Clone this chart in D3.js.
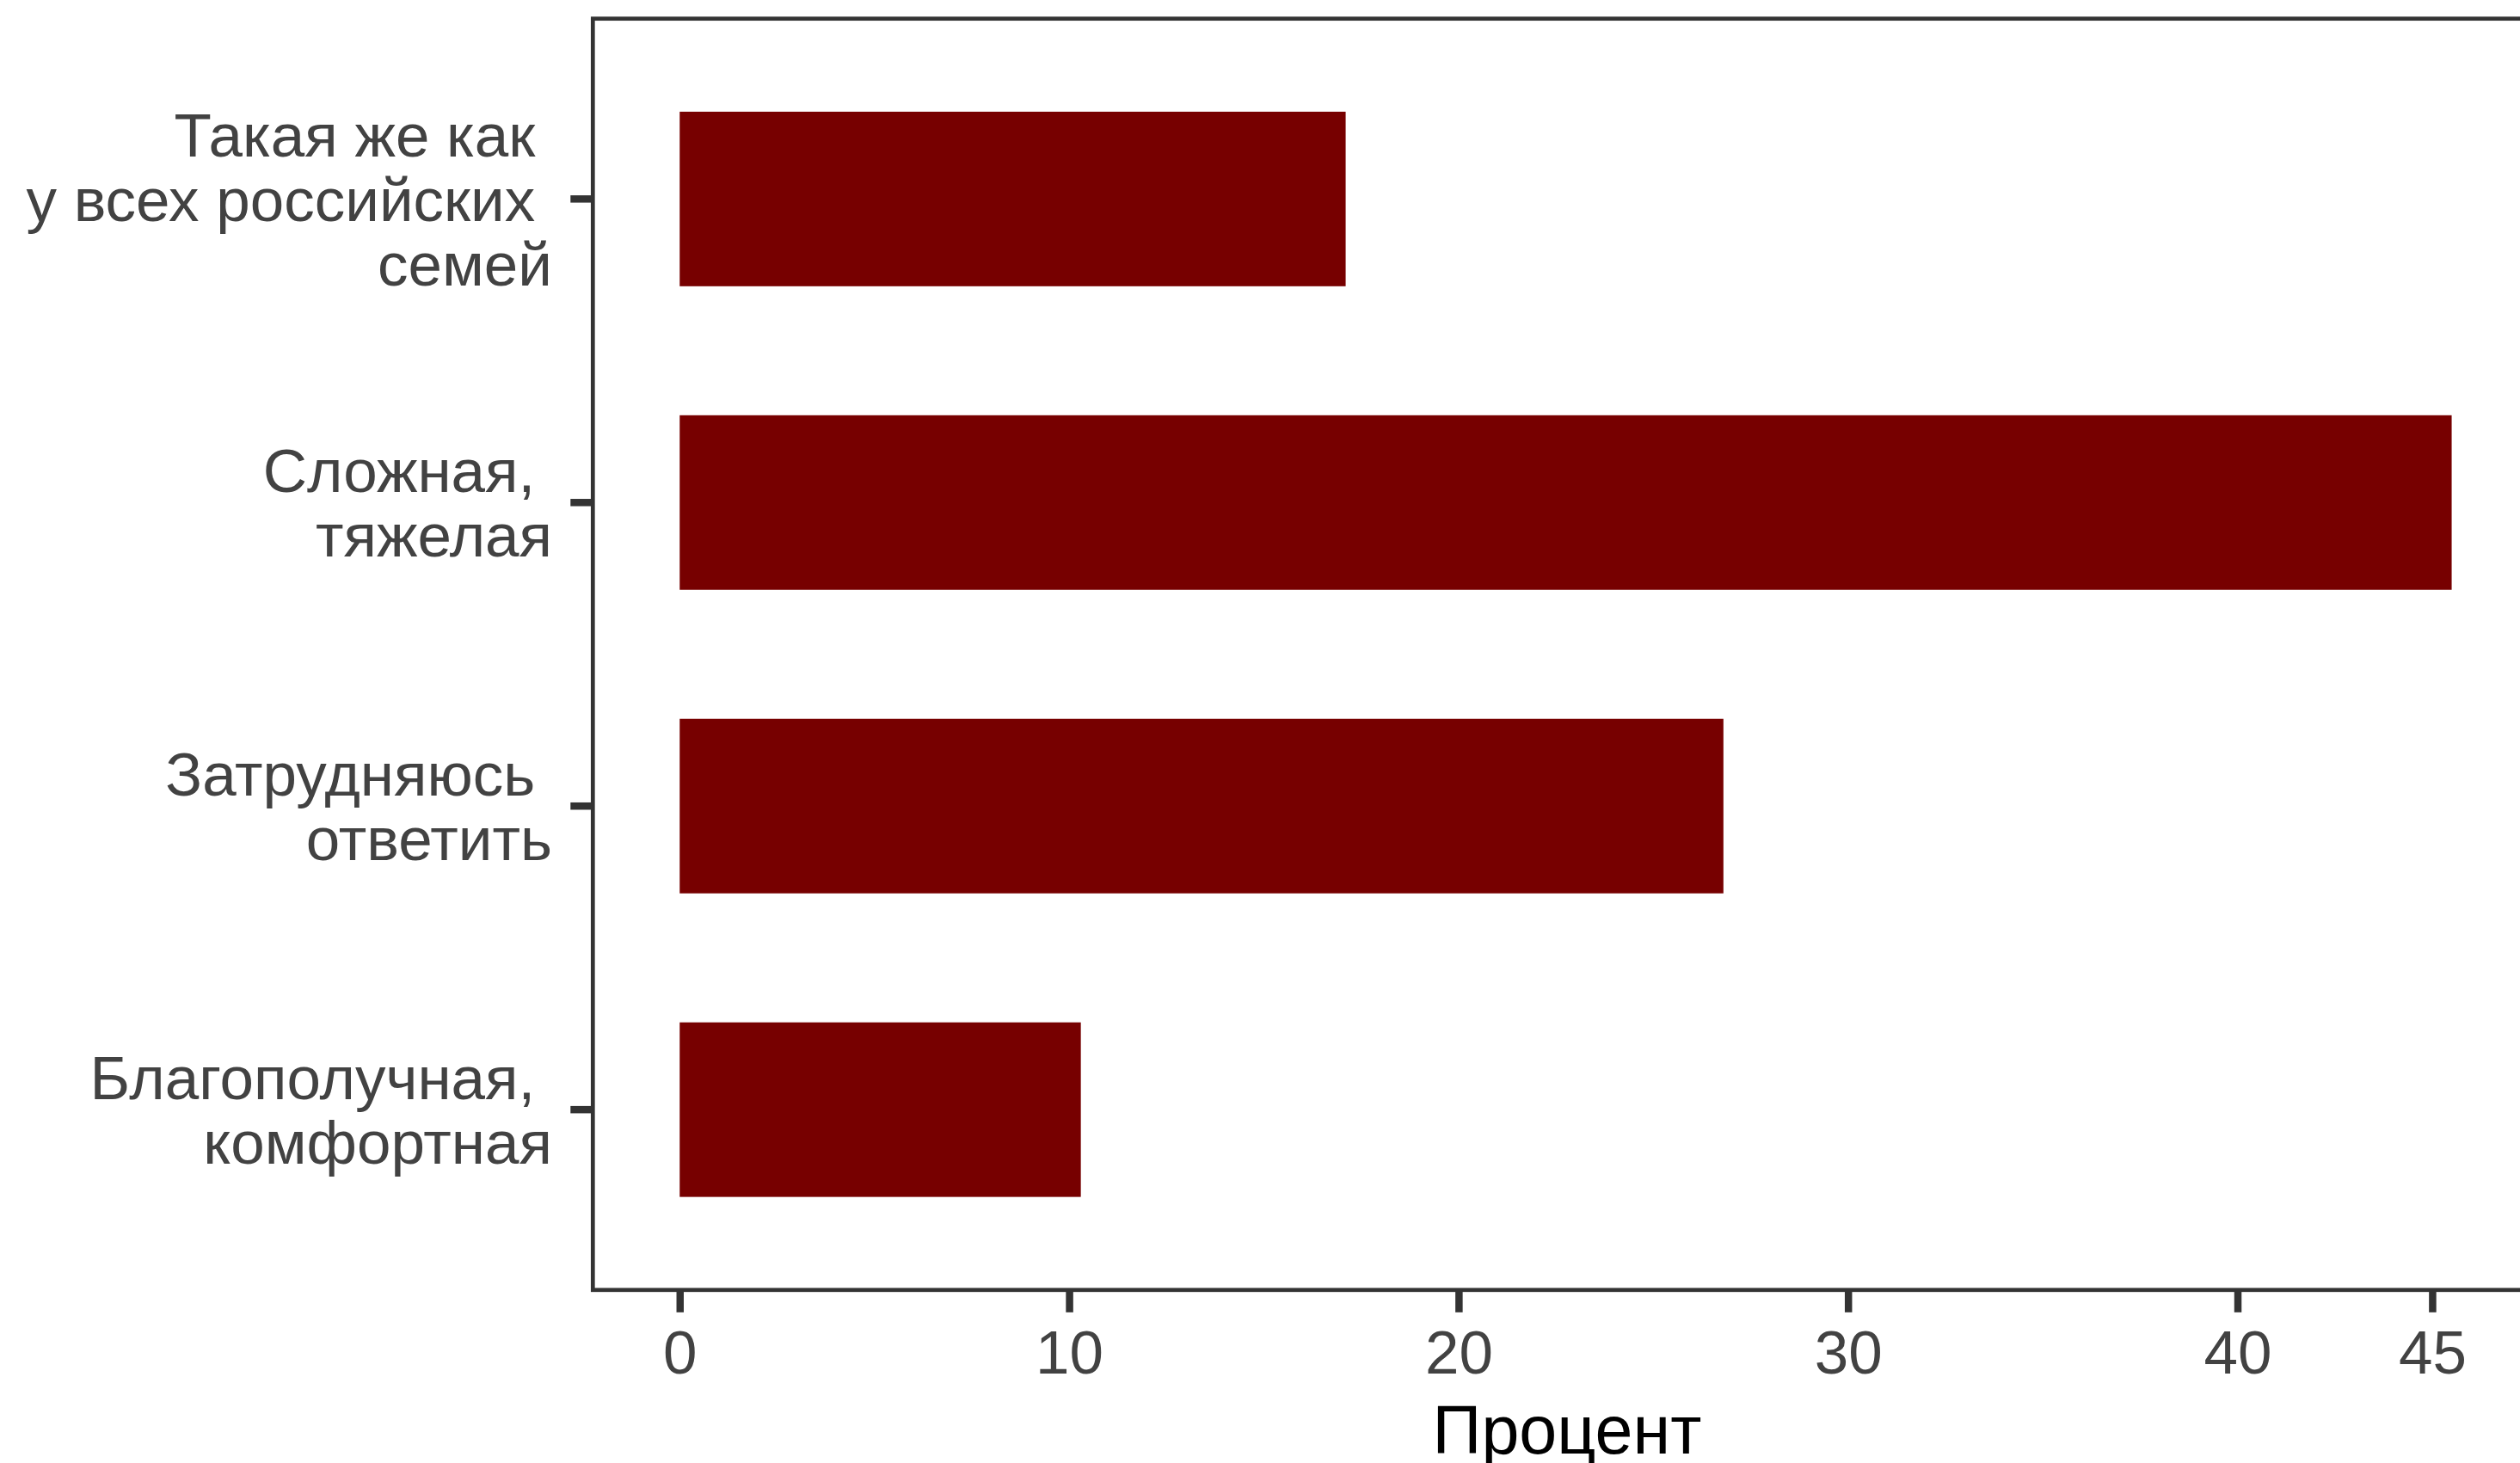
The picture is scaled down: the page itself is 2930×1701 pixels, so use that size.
<!DOCTYPE html>
<html>
<head>
<meta charset="utf-8">
<script src="https://cdn.jsdelivr.net/npm/d3@7"></script>
<style>
  html, body { margin: 0; padding: 0; background: #ffffff; }
  svg { display: block; }
  text { font-family: "Liberation Sans", Arial, sans-serif; white-space: pre; }
</style>
</head>
<body>
<svg id="chart" width="2930" height="1701"></svg>
<script>
// ---- Data ----
const categories = [
  "Такая же как \nу всех российских \nсемей",
  "Сложная, \nтяжелая",
  "Затрудняюсь \nответить",
  "Благополучная, \nкомфортная"
];
const values = [17.1, 45.5, 26.8, 10.3];
const xTickValues = [0, 10, 20, 30, 40, 45];
const xTitle = "Процент";

// ---- Layout ----
const W = 2930, H = 1701;
const panel = { left: 689.3, top: 21.7, bottom: 1499.8, right: 2954.7 };
const barColor = "#770000";
const lineColor = "#333333";
const textColor = "#424242";
const labelSize = 71;

const svg = d3.select("#chart");
svg.append("rect").attr("width", W).attr("height", H).attr("fill", "#ffffff");

const x = d3.scaleLinear()
  .domain([-2.23, 47.8])
  .range([panel.left, panel.right]);

const y = d3.scaleBand()
  .domain(categories)
  .range([panel.top, panel.bottom])
  .paddingInner(0.425)
  .paddingOuter(0.3065);

// bars
svg.append("g").selectAll("rect")
  .data(categories)
  .join("rect")
  .attr("x", x(0))
  .attr("y", d => y(d))
  .attr("width", (d, i) => x(values[i]) - x(0))
  .attr("height", y.bandwidth())
  .attr("fill", barColor);

// panel border
svg.append("rect")
  .attr("x", panel.left)
  .attr("y", panel.top)
  .attr("width", panel.right - panel.left)
  .attr("height", panel.bottom - panel.top)
  .attr("fill", "none")
  .attr("stroke", lineColor)
  .attr("stroke-width", 4.7);

// x axis
const xAxis = d3.axisBottom(x)
  .tickValues(xTickValues)
  .tickSize(26)
  .tickFormat(d3.format("d"));
const gx = svg.append("g")
  .attr("transform", `translate(0,${panel.bottom})`)
  .call(xAxis);
gx.select(".domain").remove();
gx.selectAll(".tick line")
  .attr("stroke", lineColor)
  .attr("stroke-width", 8.5);
gx.selectAll(".tick text")
  .attr("y", 97)
  .attr("dy", 0)
  .attr("fill", textColor)
  .attr("font-size", labelSize)
  .attr("font-family", "Liberation Sans, Arial, sans-serif");

// y axis
const yAxis = d3.axisLeft(y).tickSize(26).tickFormat("");
const gy = svg.append("g")
  .attr("transform", `translate(${panel.left},0)`)
  .call(yAxis);
gy.select(".domain").remove();
gy.selectAll(".tick line")
  .attr("stroke", lineColor)
  .attr("stroke-width", 8.5);

// y labels (multi-line, right-aligned, trailing spaces preserved)
const lineH = 75;
const labelRight = 642;
const ylab = svg.append("g");
categories.forEach(c => {
  const lines = c.split("\n");
  const cy = y(c) + y.bandwidth() / 2;
  const t = ylab.append("text")
    .attr("text-anchor", "end")
    .attr("font-size", labelSize)
    .attr("fill", textColor)
    .attr("xml:space", "preserve");
  lines.forEach((ln, i) => {
    t.append("tspan")
      .attr("x", labelRight)
      .attr("y", cy + (i - (lines.length - 1) / 2) * lineH + 25.6)
      .text(ln);
  });
});

// x title
svg.append("text")
  .attr("x", (panel.left + panel.right) / 2)
  .attr("y", 1690)
  .attr("text-anchor", "middle")
  .attr("font-size", 79)
  .attr("fill", "#000000")
  .text(xTitle);
</script>
</body>
</html>
